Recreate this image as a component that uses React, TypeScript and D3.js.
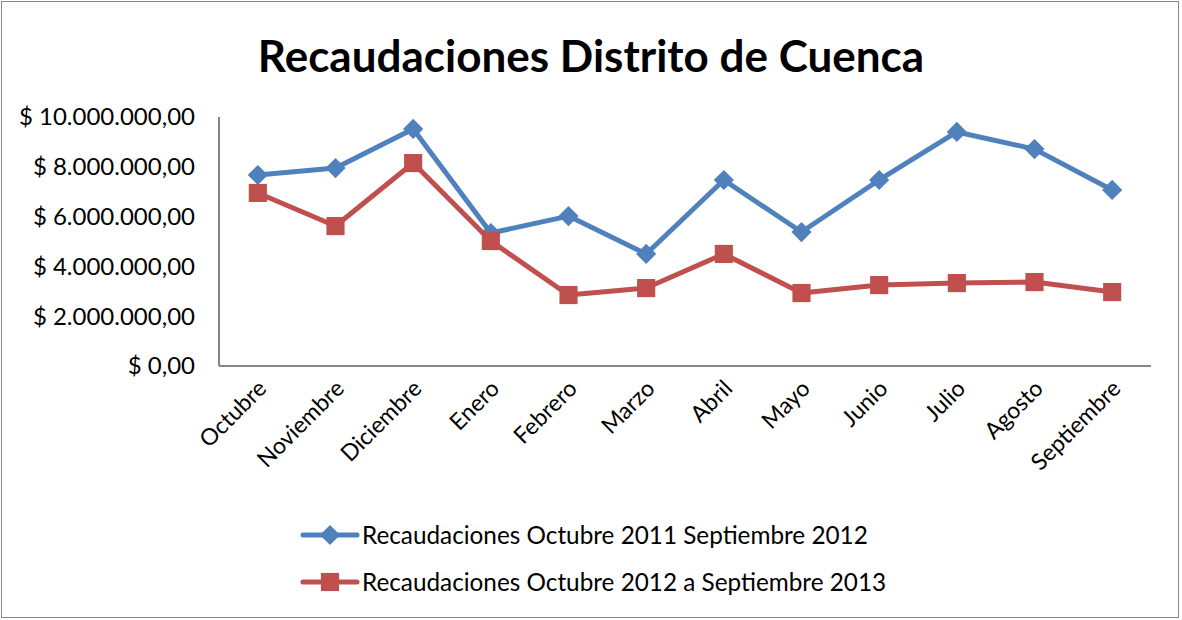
import React, { useEffect, useRef } from "react";
import * as d3 from "d3";

const months = [
  "Octubre", "Noviembre", "Diciembre", "Enero", "Febrero", "Marzo",
  "Abril", "Mayo", "Junio", "Julio", "Agosto", "Septiembre",
];
const serie2011 = [
  7670000, 7950000, 9520000, 5340000, 6020000, 4500000,
  7470000, 5380000, 7470000, 9400000, 8710000, 7070000,
];
const serie2012 = [
  6950000, 5620000, 8150000, 5020000, 2850000, 3130000,
  4500000, 2930000, 3250000, 3330000, 3370000, 2970000,
];
const yTicks = [0, 2000000, 4000000, 6000000, 8000000, 10000000];
const seriesNames = [
  "Recaudaciones Octubre 2011 Septiembre 2012",
  "Recaudaciones Octubre 2012 a Septiembre 2013",
];

const W = 1182;
const H = 620;
const FONT = "Lato, 'Open Sans', sans-serif";

// formato tipo "$ 10.000.000,00"
const fmt = (v: number) => {
  const s = d3.format(",.2f")(v); // 10,000,000.00
  return "$ " + s.replace(/,/g, "#").replace(".", ",").replace(/#/g, ".");
};

const App = () => {
  const svgRef = useRef<SVGSVGElement>(null);

  useEffect(() => {
    const svg = d3.select(svgRef.current);
    svg.selectAll("*").remove();

    const x = d3.scaleBand().domain(months).range([219, 1151]);
    const y = d3.scaleLinear().domain([0, 10000000]).range([366, 117]);
    const cx = (d: string) => (x(d) as number) + x.bandwidth() / 2;

    // marco
    svg.append("rect")
      .attr("x", 1.5).attr("y", 1.5)
      .attr("width", W - 5).attr("height", H - 4)
      .attr("fill", "white").attr("stroke", "#868686").attr("stroke-width", 1);

    svg.append("text")
      .attr("x", 591).attr("y", 72)
      .attr("text-anchor", "middle")
      .attr("font-family", FONT)
      .attr("font-weight", "bold")
      .attr("font-size", 44)
      .text("Recaudaciones Distrito de Cuenca");

    // ejes
    svg.append("line")
      .attr("x1", 219).attr("x2", 219).attr("y1", y(10000000)).attr("y2", y(0))
      .attr("stroke", "#868686").attr("stroke-width", 2);
    svg.append("line")
      .attr("x1", 219).attr("x2", 1151).attr("y1", y(0)).attr("y2", y(0))
      .attr("stroke", "#868686").attr("stroke-width", 2);

    svg.selectAll(".ytick")
      .data(yTicks)
      .join("text")
      .attr("class", "ytick")
      .attr("x", 195)
      .attr("y", (d) => y(d))
      .attr("dy", "0.35em")
      .attr("text-anchor", "end")
      .attr("font-family", FONT)
      .attr("font-size", 24)
      .text((d) => fmt(d));

    svg.selectAll(".xtick")
      .data(months)
      .join("text")
      .attr("class", "xtick")
      .attr("text-anchor", "end")
      .attr("font-family", FONT)
      .attr("font-size", 23)
      .attr("transform", (d) => `translate(${cx(d) + 10},${390}) rotate(-45)`)
      .text((d) => d);

    const line = d3.line<number>()
      .x((_, i) => cx(months[i]))
      .y((d) => y(d));

    const colors = ["#4F81BD", "#C0504D"];
    const diamond = d3.symbol().type(d3.symbolDiamond2 ?? d3.symbolDiamond).size(260)();
    const square = d3.symbol().type(d3.symbolSquare).size(330)();

    [serie2011, serie2012].forEach((data, si) => {
      svg.append("path")
        .datum(data)
        .attr("d", line)
        .attr("fill", "none")
        .attr("stroke", colors[si])
        .attr("stroke-width", 5)
        .attr("stroke-linejoin", "round");

      svg.selectAll(`.m${si}`)
        .data(data)
        .join("path")
        .attr("class", `m${si}`)
        .attr("transform", (d, i) => `translate(${cx(months[i])},${y(d)})`)
        .attr("d", si === 0 ? diamond : square)
        .attr("fill", colors[si]);
    });

    // leyenda
    const legY = [535, 582];
    seriesNames.forEach((name, si) => {
      const g = svg.append("g").attr("transform", `translate(0,${legY[si]})`);
      g.append("line")
        .attr("x1", 303).attr("x2", 357).attr("y1", 0).attr("y2", 0)
        .attr("stroke", colors[si]).attr("stroke-width", 5)
        .attr("stroke-linecap", "round");
      g.append("path")
        .attr("transform", "translate(330,0)")
        .attr("d", si === 0 ? diamond : square)
        .attr("fill", colors[si]);
      g.append("text")
        .attr("x", 362).attr("y", 0).attr("dy", "0.35em")
        .attr("font-family", FONT)
        .attr("font-size", 24.3)
        .text(name);
    });
  }, []);

  return (
    <svg
      ref={svgRef}
      width={W}
      height={H}
      style={{ position: "absolute", left: 0, top: 0 }}
    />
  );
};

export default App;
